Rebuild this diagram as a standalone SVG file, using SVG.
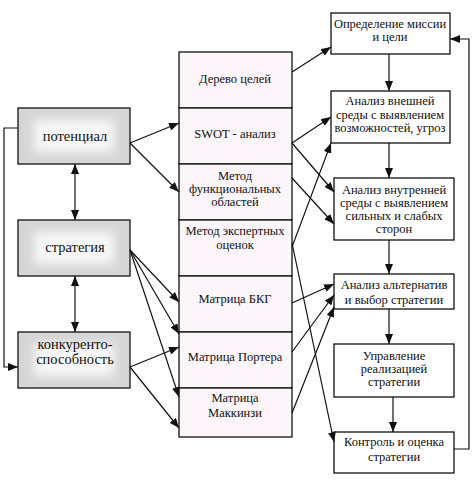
<svg xmlns="http://www.w3.org/2000/svg" width="474" height="481" viewBox="0 0 474 481">
<style>
text{font-family:"Liberation Serif","DejaVu Serif",serif;fill:#111;text-anchor:middle}
.m{font-size:12.5px}
.l{font-size:14.5px}
.box{fill:#fff;stroke:#111;stroke-width:1.3}
.mid{fill:#fcf5fa;stroke:#111;stroke-width:1.3}
.gr{fill:#d6d6d6;stroke:#111;stroke-width:1.3}
.c{fill:none;stroke:#111;stroke-width:1.2}
</style>
<defs>
<marker id="a" viewBox="0 0 10 8" refX="10" refY="4" markerWidth="10" markerHeight="8" markerUnits="userSpaceOnUse" orient="auto-start-reverse"><path d="M0,0L10,4L0,8z" fill="#111"/></marker>
<filter id="bl" x="-20%" y="-40%" width="140%" height="180%"><feGaussianBlur stdDeviation="5"/></filter>
</defs>
<rect width="474" height="481" fill="#fff"/>
<g id="potencial">
<rect class="gr" x="18" y="108" width="112" height="56"/>
<rect x="34" y="120" width="80" height="32" fill="#f7f7f7" filter="url(#bl)"/>
<text class="l" x="75" y="141">потенциал</text>
</g>
<g id="strategia">
<rect class="gr" x="18" y="220" width="112" height="56"/>
<rect x="34" y="232" width="80" height="32" fill="#f7f7f7" filter="url(#bl)"/>
<text class="l" x="75" y="252">стратегия</text>
</g>
<g id="konkurento">
<rect class="gr" x="18" y="332" width="112" height="56"/>
<rect x="34" y="344" width="80" height="32" fill="#f7f7f7" filter="url(#bl)"/>
<text class="l" x="75" y="349">конкуренто-</text>
<text class="l" x="75" y="364">способность</text>
</g>
<g id="derevo"><rect class="mid" x="179" y="52" width="113" height="56"/><text class="m" x="235" y="83">Дерево целей</text></g>
<g id="swot"><rect class="mid" x="179" y="108" width="113" height="56"/><text class="m" x="235" y="138">SWOT - анализ</text></g>
<g id="funkc"><rect class="mid" x="179" y="164" width="113" height="56"/><text class="m" x="235" y="180">Метод</text><text class="m" x="235" y="193">функциональных</text><text class="m" x="235" y="206">областей</text></g>
<g id="ekspert"><rect class="mid" x="179" y="220" width="113" height="56"/><text class="m" x="235" y="235">Метод экспертных</text><text class="m" x="235" y="249">оценок</text></g>
<g id="bkg"><rect class="mid" x="179" y="276" width="113" height="56"/><text class="m" x="235" y="303">Матрица БКГ</text></g>
<g id="porter"><rect class="mid" x="179" y="332" width="113" height="56"/><text class="m" x="235" y="361">Матрица Портера</text></g>
<g id="mckinsey"><rect class="mid" x="179" y="388" width="113" height="49"/><text class="m" x="235" y="402">Матрица</text><text class="m" x="235" y="417">Маккинзи</text></g>
<g id="missia"><rect class="box" x="331" y="13" width="119" height="41"/><text class="m" x="390" y="28">Определение миссии</text><text class="m" x="390" y="41">и цели</text></g>
<g id="vnesh"><rect class="box" x="331" y="91" width="119" height="52"/><text class="m" x="390" y="105">Анализ внешней</text><text class="m" x="390" y="119">среды с выявлением</text><text class="m" x="390" y="132">возможностей, угроз</text></g>
<g id="vnutr"><rect class="box" x="334" y="178" width="120" height="62"/><text class="m" x="394" y="194">Анализ внутренней</text><text class="m" x="394" y="207">среды с выявлением</text><text class="m" x="394" y="220">сильных и слабых</text><text class="m" x="394" y="233">сторон</text></g>
<g id="alternativ"><rect class="box" x="334" y="274" width="120" height="35"/><text class="m" x="394" y="289">Анализ альтернатив</text><text class="m" x="394" y="304">и выбор стратегии</text></g>
<g id="upravlenie"><rect class="box" x="334" y="344" width="120" height="53"/><text class="m" x="394" y="360">Управление</text><text class="m" x="394" y="373">реализацией</text><text class="m" x="394" y="386">стратегии</text></g>
<g id="kontrol"><rect class="box" x="334" y="432" width="120" height="41"/><text class="m" x="394" y="446">Контроль и оценка</text><text class="m" x="394" y="461">стратегии</text></g>
<g id="connectors" class="c" marker-end="url(#a)">
<path d="M18,128H4V367H18"/>
<path d="M75,164V220" marker-start="url(#a)"/>
<path d="M75,276V332" marker-start="url(#a)"/>
<path d="M130,143L179,123"/>
<path d="M130,143L179,192"/>
<path d="M130,250L179,302"/>
<path d="M130,250L179,334"/>
<path d="M130,250L179,397"/>
<path d="M130,367L179,347"/>
<path d="M130,367L179,428"/>
<path d="M292,72L331,47"/>
<path d="M292,143L331,117"/>
<path d="M292,143L334,192"/>
<path d="M292,178L334,224"/>
<path d="M292,247L331,143"/>
<path d="M292,243L334,442"/>
<path d="M292,303L334,284"/>
<path d="M292,352L334,295"/>
<path d="M292,413L334,307"/>
<path d="M389,54V91"/>
<path d="M389,143V178"/>
<path d="M389,240V274"/>
<path d="M389,309V344"/>
<path d="M393,397V432"/>
<path d="M454,449H469V39H450"/>
</g>
</svg>
